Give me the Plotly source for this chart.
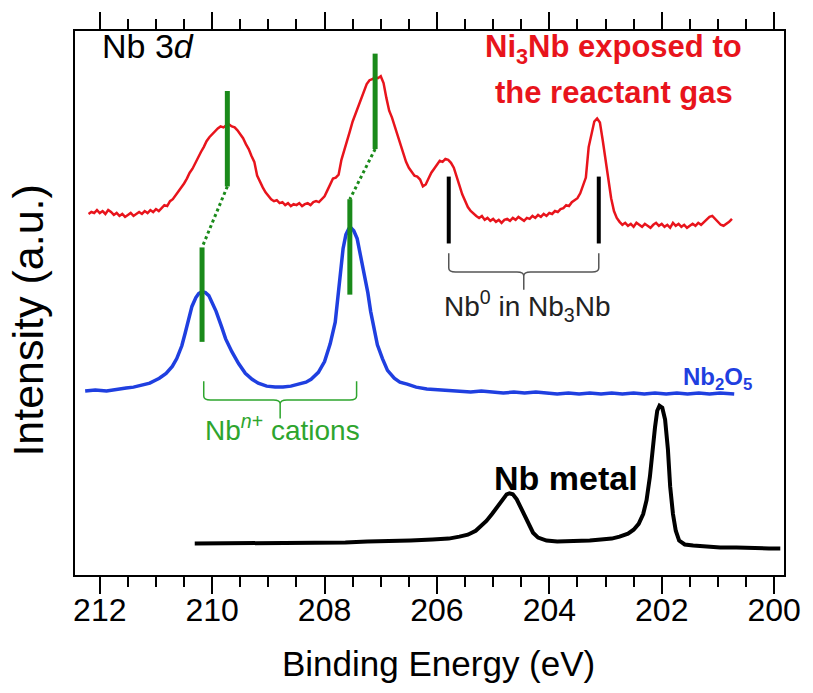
import plotly.graph_objects as go

# ---- Nb 3d spectra: binding energy (eV) and intensity (a.u., offset stacked) ----
ni3nb_energy = [
    212.20, 212.15, 212.10, 212.05, 212.00, 211.95, 211.90, 211.85, 211.80, 211.75,
    211.70, 211.65, 211.60, 211.55, 211.50, 211.45, 211.40, 211.35, 211.30, 211.25,
    211.20, 211.15, 211.10, 211.05, 211.00, 210.95, 210.90, 210.85, 210.80, 210.75,
    210.70, 210.65, 210.60, 210.55, 210.50, 210.45, 210.40, 210.35, 210.30, 210.25,
    210.20, 210.15, 210.10, 210.05, 210.00, 209.95, 209.90, 209.85, 209.80, 209.75,
    209.70, 209.65, 209.60, 209.55, 209.50, 209.45, 209.40, 209.35, 209.30, 209.25,
    209.20, 209.15, 209.10, 209.05, 209.00, 208.95, 208.90, 208.85, 208.80, 208.75,
    208.70, 208.65, 208.60, 208.55, 208.50, 208.45, 208.40, 208.35, 208.30, 208.25,
    208.20, 208.15, 208.10, 208.05, 208.00, 207.95, 207.90, 207.85, 207.80, 207.75,
    207.70, 207.65, 207.60, 207.55, 207.50, 207.45, 207.40, 207.35, 207.30, 207.25,
    207.20, 207.15, 207.10, 207.05, 207.00, 206.95, 206.90, 206.85, 206.80, 206.75,
    206.70, 206.65, 206.60, 206.55, 206.50, 206.45, 206.40, 206.35, 206.30, 206.25,
    206.20, 206.15, 206.10, 206.05, 206.00, 205.95, 205.90, 205.85, 205.80, 205.75,
    205.70, 205.65, 205.60, 205.55, 205.50, 205.45, 205.40, 205.35, 205.30, 205.25,
    205.20, 205.15, 205.10, 205.05, 205.00, 204.95, 204.90, 204.85, 204.80, 204.75,
    204.70, 204.65, 204.60, 204.55, 204.50, 204.45, 204.40, 204.35, 204.30, 204.25,
    204.20, 204.15, 204.10, 204.05, 204.00, 203.95, 203.90, 203.85, 203.80, 203.75,
    203.70, 203.65, 203.60, 203.55, 203.50, 203.45, 203.40, 203.35, 203.30, 203.25,
    203.20, 203.15, 203.10, 203.05, 203.00, 202.95, 202.90, 202.85, 202.80, 202.75,
    202.70, 202.65, 202.60, 202.55, 202.50, 202.45, 202.40, 202.35, 202.30, 202.25,
    202.20, 202.15, 202.10, 202.05, 202.00, 201.95, 201.90, 201.85, 201.80, 201.75,
    201.70, 201.65, 201.60, 201.55, 201.50, 201.45, 201.40, 201.35, 201.30, 201.25,
    201.20, 201.15, 201.10, 201.05, 201.00, 200.95, 200.90, 200.85, 200.80, 200.75,
]
ni3nb_intensity = [
    357, 359, 358, 361, 358, 360, 357, 361, 359,
    356, 358, 355, 357, 354, 356, 358, 355, 357, 359,
    357, 360, 358, 361, 359, 362, 360, 363, 366, 365,
    370, 372, 376, 379, 384, 388, 393, 399, 403,
    409, 414, 420, 425, 431, 435, 438, 442, 444, 446,
    445, 447, 448, 446, 445, 442, 438, 434, 428, 423,
    416, 410, 396, 389, 384, 379, 375, 372, 370,
    371, 368, 369, 366, 368, 365, 367, 366, 368, 365,
    367, 368, 366, 369, 370, 369, 372, 375, 381, 388,
    393, 394, 397, 412, 421, 432, 441, 451, 459,
    466, 474, 482, 489, 493, 494, 496, 495, 497, 490,
    475, 462, 455, 446, 438, 428, 419, 410, 404, 400,
    396, 395, 392, 385, 387, 393, 399, 403, 407,
    411, 410, 413, 412, 409, 404, 396, 386, 377, 370,
    364, 360, 357, 355, 353, 355, 351, 353, 350, 352,
    349, 351, 348, 351, 352, 350, 353, 351, 354,
    352, 350, 353, 352, 355, 353, 356, 354, 357, 355,
    358, 357, 360, 359, 362, 363, 366, 365, 369, 371,
    373, 378, 386, 394, 425, 440, 451, 454, 450,
    432, 412, 392, 373, 360, 353, 349, 346, 348, 345,
    347, 344, 348, 346, 344, 347, 345, 343, 346, 348,
    345, 347, 344, 346, 343, 348, 345, 347, 344,
    346, 343, 345, 347, 345, 348, 346, 349, 351, 354,
    355, 352, 348, 346, 345, 347, 349, 352,
]

nb2o5_energy = [
    212.26, 212.08, 211.88, 211.69, 211.53, 211.40, 211.25, 211.11, 211.01, 210.94,
    210.82, 210.71, 210.63, 210.54, 210.48, 210.41, 210.36, 210.29, 210.24, 210.18,
    210.12, 210.06, 210.00, 209.93, 209.83, 209.76, 209.65, 209.53, 209.41, 209.29,
    209.18, 209.03, 208.88, 208.74, 208.60, 208.45, 208.33, 208.24, 208.11, 208.00,
    207.90, 207.81, 207.76, 207.72, 207.67, 207.62, 207.57, 207.53, 207.48, 207.42,
    207.36, 207.29, 207.23, 207.18, 207.12, 207.06, 206.97, 206.88, 206.76, 206.66,
    206.53, 206.37, 206.18, 205.95, 205.79, 205.65, 205.40, 205.21, 205.02, 204.82,
    204.63, 204.44, 204.24, 204.05, 203.86, 203.66, 203.47, 203.28, 203.08, 202.89,
    202.70, 202.50, 202.31, 202.12, 201.92, 201.73, 201.54, 201.34, 201.15, 200.96,
    200.71,
]
nb2o5_intensity = [
    177, 178, 177, 179, 180, 181, 183, 185, 188, 190,
    195, 202, 210, 223, 236, 252, 263, 272, 276, 278,
    277, 274, 267, 258, 242, 230, 217, 205, 195, 189,
    185, 182, 181, 181, 182, 184, 186, 189, 196, 207,
    225, 247, 275, 300, 322, 336, 342, 343, 340, 332,
    315, 297, 277, 258, 240, 224, 210, 198, 190, 186,
    184, 181, 179, 178, 177, 177, 176, 177, 176, 175,
    176, 175, 176, 175, 174, 175, 174, 175, 174, 175,
    174, 175, 174, 175, 174, 175, 174, 175, 174, 175,
    174,
]

nb_metal_energy = [
    210.31, 209.95, 209.56, 209.18, 208.79, 208.40, 208.02, 207.63, 207.24, 206.86,
    206.47, 206.08, 205.79, 205.60, 205.45, 205.31, 205.21, 205.12, 205.02, 204.92,
    204.82, 204.76, 204.71, 204.65, 204.58, 204.52, 204.44, 204.36, 204.29, 204.20,
    204.05, 203.86, 203.66, 203.47, 203.28, 203.08, 202.89, 202.75, 202.60, 202.50,
    202.41, 202.33, 202.27, 202.21, 202.17, 202.12, 202.08, 202.04, 201.99, 201.94,
    201.89, 201.85, 201.80, 201.75, 201.69, 201.59, 201.44, 201.24, 200.96, 200.67,
    200.38, 200.09, 199.89,
]
nb_metal_intensity = [
    22, 22, 22, 23, 23, 23, 23, 23, 24, 24,
    25, 26, 27, 29, 31, 35, 40, 45, 52, 60,
    67, 72, 73, 72, 67, 60, 50, 40, 33, 28,
    25, 24, 24, 24, 25, 26, 27, 29, 32, 36,
    42, 52, 66, 90, 115, 140, 157, 162, 160, 148,
    118, 80, 52, 35, 25, 21, 20, 19, 18, 18,
    17, 17, 17,
]

# ---- peak markers: (binding energy, lower end, upper end) ----
cation_bars_ni3nb = [(209.73, 385, 482), (207.10, 423, 520)]
cation_bars_nb2o5 = [(210.18, 227, 323), (207.55, 275, 372)]
metal_bars_ni3nb = [(205.79, 327, 395), (203.12, 327, 395)]

RED = "#e8141c"
BLUE = "#1f3fe0"
GREEN = "#1a8a1a"
LIGHT_GREEN = "#2ea52e"
FONT = "Liberation Sans, Arial, sans-serif"
NARROW = "Liberation Sans Narrow, Arial Narrow, Liberation Sans, Arial, sans-serif"

fig = go.Figure()

fig.add_trace(go.Scatter(x=nb_metal_energy, y=nb_metal_intensity, mode="lines",
                         line=dict(color="black", width=4), name="Nb metal"))
fig.add_trace(go.Scatter(x=nb2o5_energy, y=nb2o5_intensity, mode="lines",
                         line=dict(color=BLUE, width=3.5), name="Nb2O5"))
fig.add_trace(go.Scatter(x=ni3nb_energy, y=ni3nb_intensity, mode="lines",
                         line=dict(color=RED, width=2.5), name="Ni3Nb"))

shapes = []
for e, lo, hi in cation_bars_ni3nb + cation_bars_nb2o5:
    shapes.append(dict(type="line", xref="x", yref="y", x0=e, x1=e, y0=lo, y1=hi,
                       line=dict(color=GREEN, width=5)))
for e, lo, hi in metal_bars_ni3nb:
    shapes.append(dict(type="line", xref="x", yref="y", x0=e, x1=e, y0=lo, y1=hi,
                       line=dict(color="black", width=4)))
# dotted guides linking the cation components of both spectra
for (e1, lo1, _), (e2, _, hi2) in zip(cation_bars_ni3nb, cation_bars_nb2o5):
    shapes.append(dict(type="line", xref="x", yref="y", x0=e1, x1=e2, y0=lo1, y1=hi2,
                       line=dict(color=GREEN, width=3, dash="dot")))


def brace(e_left, e_right, top, bottom, tip, r=0.12, dy=4):
    mid = (e_left + e_right) / 2
    return (f"M {e_left},{top} L {e_left},{bottom + dy} "
            f"Q {e_left},{bottom} {e_left - r},{bottom} "
            f"L {mid + r},{bottom} Q {mid},{bottom} {mid},{bottom - dy} L {mid},{tip} "
            f"M {mid},{bottom - dy} Q {mid},{bottom} {mid - r},{bottom} "
            f"L {e_right + r},{bottom} Q {e_right},{bottom} {e_right},{bottom + dy} "
            f"L {e_right},{top}")


shapes.append(dict(type="path", xref="x", yref="y",
                   path=brace(205.79, 203.12, 317, 298, 280),
                   line=dict(color="#555555", width=1.5)))
shapes.append(dict(type="path", xref="x", yref="y",
                   path=brace(210.15, 207.43, 187, 168, 149),
                   line=dict(color=LIGHT_GREEN, width=1.5)))

annotations = [
    dict(x=212.0, y=528, xref="x", yref="y", xanchor="left", yanchor="middle",
         text="Nb 3<i>d</i>", showarrow=False, font=dict(family=FONT, size=34, color="black")),
    dict(x=202.85, y=525, xref="x", yref="y", xanchor="center", yanchor="middle",
         text="<b>Ni<sub>3</sub>Nb exposed to</b>", showarrow=False,
         font=dict(family=NARROW, size=31, color=RED)),
    dict(x=202.85, y=480, xref="x", yref="y", xanchor="center", yanchor="middle",
         text="<b>the reactant gas</b>", showarrow=False,
         font=dict(family=NARROW, size=31, color=RED)),
    dict(x=204.38, y=263, xref="x", yref="y", xanchor="center", yanchor="middle",
         text="Nb<sup>0</sup> in Nb<sub>3</sub>Nb", showarrow=False,
         font=dict(family=FONT, size=28, color="#222222")),
    dict(x=208.74, y=139, xref="x", yref="y", xanchor="center", yanchor="middle",
         text="Nb<sup><i>n</i>+</sup> cations", showarrow=False,
         font=dict(family=FONT, size=28, color=LIGHT_GREEN)),
    dict(x=200.35, y=190, xref="x", yref="y", xanchor="right", yanchor="middle",
         text="<b>Nb<sub>2</sub>O<sub>5</sub></b>", showarrow=False,
         font=dict(family=FONT, size=24, color=BLUE)),
    dict(x=203.71, y=89, xref="x", yref="y", xanchor="center", yanchor="middle",
         text="<b>Nb metal</b>", showarrow=False,
         font=dict(family=FONT, size=34, color="black")),
    # axis titles
    dict(x=0.512, y=-0.163, xref="paper", yref="paper", xanchor="center", yanchor="middle",
         text="Binding Energy (eV)", showarrow=False,
         font=dict(family=FONT, size=35, color="black")),
    dict(x=-0.066, y=0.468, xref="paper", yref="paper", xanchor="center", yanchor="middle",
         text="Intensity (a.u.)", textangle=-90, showarrow=False,
         font=dict(family=FONT, size=43, color="black")),
]

fig.update_layout(
    width=813, height=693,
    margin=dict(l=75, r=23, t=22, b=118),
    paper_bgcolor="white", plot_bgcolor="white",
    showlegend=False,
    shapes=shapes, annotations=annotations,
    font=dict(family=FONT, color="black"),
)
fig.update_xaxes(
    range=[212.441, 199.824], tick0=200, dtick=2,
    ticks="outside", ticklen=17, tickwidth=2, tickcolor="black",
    minor=dict(dtick=0.5, ticks="outside", ticklen=10, tickwidth=2, tickcolor="black"),
    showline=True, linewidth=2, linecolor="black", mirror="allticks",
    showgrid=False, zeroline=False,
    tickfont=dict(family=FONT, size=32, color="black"),
    ticklabelstandoff=-11,
)
fig.update_yaxes(
    range=[-10, 543], showline=True, linewidth=2, linecolor="black", mirror=True,
    showticklabels=False, ticks="", showgrid=False, zeroline=False,
)

fig.write_html("out.html")
